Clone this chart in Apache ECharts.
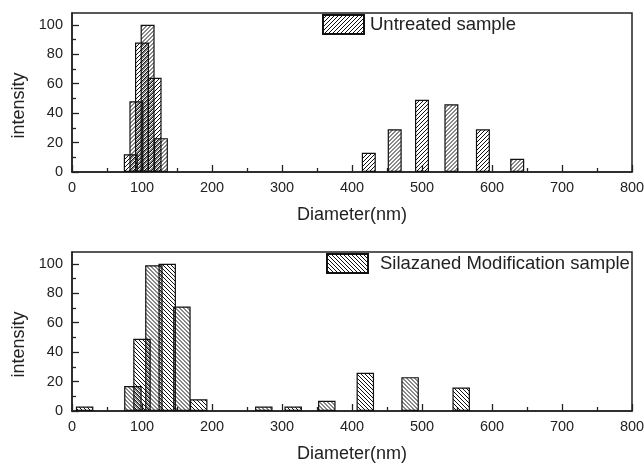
<!DOCTYPE html>
<html><head><meta charset="utf-8">
<script src="https://cdn.jsdelivr.net/npm/echarts@6/dist/echarts.min.js"></script>
<style>html,body{margin:0;padding:0;background:#fff}#c{width:644px;height:466px}</style>
</head><body><div id="c"></div>
<script>
// ---- data ----
const untreatedDiameter = [84, 92, 100, 108, 118, 127, 424, 461, 500, 542, 587, 636];
const untreatedIntensity = [12, 48, 88, 100, 64, 23, 13, 29, 49, 46, 29, 9];
const silazanedDiameter = [18, 87, 100, 117, 136, 157, 181, 274, 316, 364, 419, 483, 556];
const silazanedIntensity = [3, 17, 49, 99, 100, 71, 8, 3, 3, 7, 26, 23, 16];
const xTicks = [0, 100, 200, 300, 400, 500, 600, 700, 800];
const yTicks = [0, 20, 40, 60, 80, 100];
const yMinorTicks = [10, 30, 50, 70, 90];
const seriesNames = ['Untreated sample', 'Silazaned Modification sample'];
const xTitle = 'Diameter(nm)';
const yTitle = 'intensity';

// ---- styling helpers ----
const INK = '#222';
const FONT = '"Liberation Sans", Arial, Helvetica, sans-serif';
const P = 4;
function hatch(dir) {
  const c = document.createElement('canvas');
  c.width = P; c.height = P;
  const g = c.getContext('2d');
  g.strokeStyle = '#111'; g.lineWidth = 1.0;
  g.beginPath();
  for (let k = -1; k <= 1; k++) {
    if (dir > 0) { g.moveTo(k * P, P); g.lineTo(k * P + P, 0); }
    else { g.moveTo(k * P, 0); g.lineTo(k * P + P, P); }
  }
  g.stroke();
  return c;
}
const tileUp = hatch(1), tileDown = hatch(-1);
function items(xs, ys, tile) {
  return xs.map((x, i) => ({
    value: [x, ys[i]],
    itemStyle: { color: { image: tile, repeat: 'repeat', x: (i * 1.5) % P, y: 0 } }
  }));
}

function xAxisDef(gi) {
  return {
    gridIndex: gi, type: 'value', min: 0, max: 800, interval: 100,
    axisLine: { show: true, lineStyle: { color: INK, width: 1.5 } },
    axisTick: { show: true, inside: true, length: 7, lineStyle: { color: INK, width: 1.3 } },
    minorTick: { show: true, splitNumber: 2, length: 4, lineStyle: { color: INK, width: 1.3 } },
    splitLine: { show: false }, minorSplitLine: { show: false },
    axisLabel: { customValues: xTicks, margin: 8, fontSize: 14.5, color: INK, fontFamily: FONT },
    name: xTitle, nameLocation: 'middle', nameGap: 34,
    nameTextStyle: { fontSize: 18, color: INK, fontFamily: FONT }
  };
}
function yMajor(gi) {
  return {
    gridIndex: gi, type: 'value', min: 0, max: 108, position: 'left',
    axisLine: { show: true, lineStyle: { color: INK, width: 1.5 } },
    axisTick: { show: true, inside: true, length: 7, customValues: yTicks, lineStyle: { color: INK, width: 1.3 } },
    splitLine: { show: false },
    axisLabel: { customValues: yTicks, margin: 9, fontSize: 14.5, color: INK, fontFamily: FONT },
    name: yTitle, nameLocation: 'middle', nameGap: 43, nameRotate: 90,
    nameTextStyle: { fontSize: 18, color: INK, fontFamily: FONT, padding: [0, 26, 0, 0] }
  };
}
function yMinor(gi) {
  return {
    gridIndex: gi, type: 'value', min: 0, max: 108, position: 'left',
    axisLine: { show: false }, splitLine: { show: false }, axisLabel: { show: false },
    axisTick: { show: true, inside: true, length: 4, customValues: yMinorTicks, lineStyle: { color: INK, width: 1.3 } }
  };
}
function legendDef(name, left, top, pad) {
  return {
    data: [name], left: left, top: top, padding: 0, icon: 'rect',
    itemWidth: 41, itemHeight: 19, selectedMode: false,
    textStyle: { fontSize: 18.5, color: INK, fontFamily: FONT, padding: [0, 0, 0, pad] }
  };
}

const chart = echarts.init(document.getElementById('c'), null, { renderer: 'canvas' });
chart.setOption({
  backgroundColor: '#fff',
  animation: false,
  grid: [
    { left: 72, top: 13, width: 560, height: 159, show: true, borderColor: INK, borderWidth: 1.5, outerBoundsMode: 'none' },
    { left: 72, top: 252, width: 560, height: 159, show: true, borderColor: INK, borderWidth: 1.5, outerBoundsMode: 'none' }
  ],
  legend: [
    legendDef(seriesNames[0], 322, 14, 1),
    legendDef(seriesNames[1], 326, 253, 7)
  ],
  xAxis: [xAxisDef(0), xAxisDef(1)],
  yAxis: [yMajor(0), yMinor(0), yMajor(1), yMinor(1)],
  series: [
    {
      name: seriesNames[0], type: 'bar', xAxisIndex: 0, yAxisIndex: 0, barWidth: 14,
      itemStyle: { color: { image: tileUp, repeat: 'repeat' }, borderColor: '#111', borderWidth: 1.2 },
      data: items(untreatedDiameter, untreatedIntensity, tileUp)
    },
    {
      name: seriesNames[1], type: 'bar', xAxisIndex: 1, yAxisIndex: 2, barWidth: 17.5,
      itemStyle: { color: { image: tileDown, repeat: 'repeat' }, borderColor: '#111', borderWidth: 1.2 },
      data: items(silazanedDiameter, silazanedIntensity, tileDown)
    }
  ]
});
</script></body></html>
